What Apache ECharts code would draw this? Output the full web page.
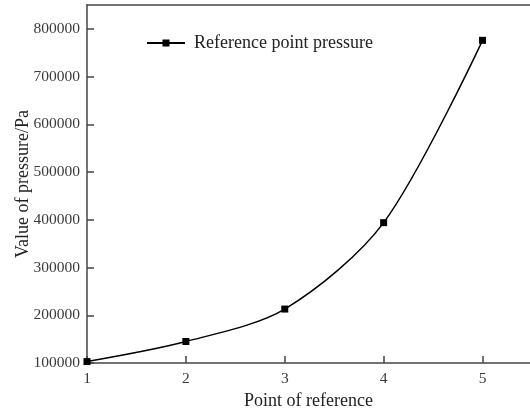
<!DOCTYPE html>
<html>
<head>
<meta charset="utf-8">
<script src="https://cdn.jsdelivr.net/npm/echarts@6/dist/echarts.min.js"></script>
<style>
html,body{margin:0;padding:0;background:#fff;}
#main{width:530px;height:418px;}
</style>
</head>
<body>
<div id="main"></div>
<script>
var points = [1, 2, 3, 4, 5];
var pressure = [103000, 145000, 213000, 394000, 776000];
var xTicks = [1, 2, 3, 4, 5];
var yTicks = [100000, 200000, 300000, 400000, 500000, 600000, 700000, 800000];
var seriesName = 'Reference point pressure';
var xName = 'Point of reference';
var yName = 'Value of pressure/Pa';

var font = "'Liberation Serif', 'Times New Roman', serif";
var chart = echarts.init(document.getElementById('main'), null, {renderer: 'canvas'});
var data = points.map(function (p, i) { return [p, pressure[i]]; });

chart.setOption({
  animation: false,
  backgroundColor: '#fff',
  grid: {left: 87, right: 0, top: 5, bottom: 55, containLabel: false, outerBoundsMode: 'none'},
  legend: {
    data: [seriesName],
    left: 147,
    top: 34,
    padding: 0,
    itemWidth: 38,
    itemHeight: 7,
    icon: 'path://M0,2.5L38,2.5L38,4.5L0,4.5Z M15.5,0L22.5,0L22.5,7L15.5,7Z',
    textStyle: {fontFamily: font, fontSize: 18, color: '#222', padding: [0, 0, 0, 4]},
    itemStyle: {color: '#000'}
  },
  xAxis: [{
    type: 'value',
    min: 1, max: 5.48, interval: 1,
    name: xName, nameLocation: 'middle', nameGap: 29, nameMoveOverlap: false,
    nameTextStyle: {fontFamily: font, fontSize: 18, color: '#222'},
    axisLine: {show: true, lineStyle: {color: '#444', width: 1.5}},
    axisTick: {show: true, inside: true, length: 7, customValues: xTicks, lineStyle: {color: '#444', width: 1.5}},
    axisLabel: {fontFamily: font, fontSize: 15.5, color: '#3a3a3a', margin: 8, customValues: xTicks,
      formatter: function (v) { return String(v); }},
    splitLine: {show: false}
  }, {
    type: 'value', position: 'top',
    min: 1, max: 5.48,
    axisLine: {show: true, lineStyle: {color: '#444', width: 1.5}},
    axisTick: {show: false}, axisLabel: {show: false}, splitLine: {show: false}
  }],
  yAxis: {
    type: 'value',
    min: 100000, max: 850000, interval: 100000,
    name: yName, nameLocation: 'middle', nameGap: 55, nameMoveOverlap: false,
    nameTextStyle: {fontFamily: font, fontSize: 18, color: '#222'},
    axisLine: {show: true, lineStyle: {color: '#444', width: 1.5}},
    axisTick: {show: true, inside: true, length: 7, customValues: yTicks, lineStyle: {color: '#444', width: 1.5}},
    axisLabel: {fontFamily: font, fontSize: 15.5, color: '#3a3a3a', margin: 7, customValues: yTicks,
      formatter: function (v) { return String(v); }},
    splitLine: {show: false}
  },
  series: [{
    name: seriesName,
    type: 'line',
    data: data,
    smooth: 0.3,
    symbol: 'rect',
    symbolSize: 7,
    lineStyle: {color: '#000', width: 1.5},
    itemStyle: {color: '#000'}
  }]
});
</script>
</body>
</html>
